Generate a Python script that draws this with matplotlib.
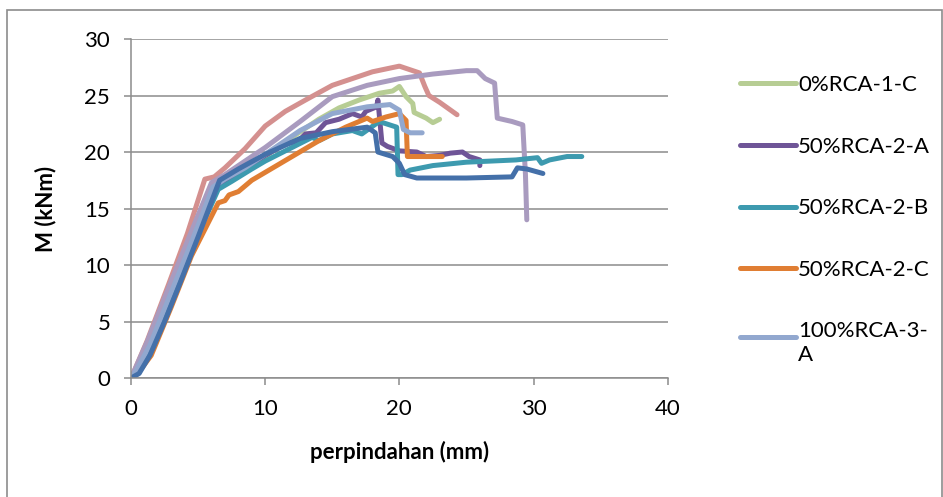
import matplotlib
matplotlib.use("Agg")
import matplotlib.pyplot as plt
from matplotlib.legend_handler import HandlerLine2D
from matplotlib.patches import Rectangle

plt.rcParams['font.family'] = ['Lato', 'DejaVu Sans']

# load-displacement readings, displacement in mm and moment in kNm
x_0_1c = [0, 0.5, 1.5, 3, 4.5, 6.2, 7, 8.5, 10, 12, 14, 15.5, 17, 18.5, 19.5, 20, 20.5, 21, 21.1, 22, 22.5, 23]
m_0_1c = [0, 0.6, 2.6, 7.2, 11.8, 16.6, 17.3, 18.4, 19.6, 21.3, 22.9, 23.9, 24.6, 25.2, 25.4, 25.8, 24.9, 24.3, 23.5, 23.0, 22.6, 22.9]

x_50_2a = [0, 0.5, 1.5, 3, 4.5, 6.4, 7.2, 8.5, 10, 11.5, 12.5, 13, 13.8, 14.5, 15.5, 16.5, 17.2, 17.5, 18.3, 18.4, 18.7, 19.1,
           20, 21.3, 22, 23, 23.8, 24.7, 25.2, 26, 26]
m_50_2a = [0, 0.5, 2.4, 7.0, 11.6, 16.7, 17.4, 18.5, 19.7, 20.7, 21.0, 21.6, 21.7, 22.6, 22.9, 23.4, 23.1, 23.6, 24.0, 24.6, 20.8, 20.5,
           20.1, 20.0, 19.6, 19.7, 19.9, 20.0, 19.6, 19.3, 18.8]

x_50_2b = [0, 0.5, 1.5, 3, 4.5, 6.5, 7.5, 9, 10, 12, 13.5, 14, 15, 16.5, 17.2, 18.5, 19.8, 19.9, 20.2, 20.8, 22.5, 25,
           28.7, 30.3, 30.6, 31.2, 32.5, 33.6]
m_50_2b = [0, 0.5, 2.3, 6.8, 11.4, 16.7, 17.4, 18.5, 19.2, 20.4, 21.3, 21.0, 21.6, 21.9, 21.6, 22.7, 22.2, 18.0, 18.0, 18.4, 18.8, 19.1,
           19.3, 19.5, 19.0, 19.3, 19.6, 19.6]

x_50_2c = [0, 0.5, 1.5, 3, 4.5, 6.5, 7.0, 7.3, 8, 9, 10, 12, 14, 16, 17.6, 18.0, 19, 20, 20.5, 20.6, 21.5, 23.2]
m_50_2c = [0, 0.4, 2.0, 6.3, 10.8, 15.5, 15.7, 16.2, 16.5, 17.5, 18.2, 19.6, 21.0, 22.2, 23.0, 22.7, 23.1, 23.4, 22.8, 19.6, 19.6, 19.6]

x_100_3a = [0, 0.4, 1.4, 3, 4.5, 6.1, 7, 8.5, 10, 12.6, 15, 17.6, 19.3, 20, 20.3, 20.8, 21.7]
m_100_3a = [0, 0.7, 2.9, 7.6, 12.0, 16.9, 17.6, 18.6, 19.8, 21.9, 23.4, 24.0, 24.2, 23.7, 22.0, 21.7, 21.7]

x_100_3b = [0, 0.3, 1.2, 2.8, 4.3, 6.0, 7, 8.5, 10, 12.6, 15, 17.6, 20, 22.5, 25, 25.8, 26.4, 27.1, 27.3, 28.4, 29.2,
            29.4, 29.5]
m_100_3b = [0, 0.8, 3.2, 8.0, 12.4, 17.3, 18.0, 19.2, 20.4, 22.7, 24.9, 25.9, 26.5, 26.9, 27.2, 27.2, 26.5, 26.1, 23.0, 22.7,
            22.4, 18.0, 14.0]

x_0_1a = [0, 0.3, 1.2, 2.8, 4.2, 5.5, 6.2, 7, 8.5, 10, 11.5, 13, 15, 18, 20, 21.5, 21.9, 22.2, 23, 24.3]
m_0_1a = [0, 0.8, 3.3, 8.3, 12.8, 17.6, 17.8, 18.6, 20.3, 22.3, 23.6, 24.6, 25.9, 27.1, 27.6, 27.0, 25.8, 25.0, 24.4, 23.3]

x_50_2d = [0, 0.6, 1.4, 2.5, 3.65, 5, 6.6, 8, 10, 12.6, 15, 17.6, 18.2, 18.4, 19.5, 20.0, 20.4, 21.3, 25, 28.4, 28.8,
           29.5, 30.7]
m_50_2d = [0, 0.4, 2.0, 5.0, 8.4, 12.5, 17.5, 18.5, 19.8, 21.2, 21.8, 22.2, 21.7, 20.0, 19.6, 19.0, 18.0, 17.7, 17.7, 17.8, 18.6,
           18.5, 18.1]

# unlabelled runs go first so the labelled ones sit on top
extra = [
    (x_0_1a, m_0_1a, '#D4908F'),
    (x_100_3b, m_100_3b, '#A99BBF'),
]
labelled = [
    (x_0_1c, m_0_1c, '#B7CD94', '0%RCA-1-C'),
    (x_50_2a, m_50_2a, '#6F5597', '50%RCA-2-A'),
    (x_50_2b, m_50_2b, '#3D9AAF', '50%RCA-2-B'),
    (x_50_2c, m_50_2c, '#E07E33', '50%RCA-2-C'),
    (x_100_3a, m_100_3a, '#92A8CF', '100%RCA-3-\nA'),
]

fig = plt.figure(figsize=(9.43, 4.97), dpi=100)
ax = fig.add_axes([0.139, 0.2394, 0.569, 0.6821])

lw = 3.6
for xs, ms, c in extra:
    ax.plot(xs, ms, color=c, lw=lw, solid_capstyle='round', solid_joinstyle='round')
handles = []
for xs, ms, c, lab in labelled:
    h, = ax.plot(xs, ms, color=c, lw=lw, label=lab, solid_capstyle='round', solid_joinstyle='round')
    handles.append(h)
ax.plot(x_50_2d, m_50_2d, color='#4470A9', lw=lw, solid_capstyle='round', solid_joinstyle='round')

ax.set_xlim(0, 40)
ax.set_ylim(0, 30)
ax.set_xticks([0, 10, 20, 30, 40])
ax.set_yticks([0, 5, 10, 15, 20, 25, 30])
ax.grid(axis='y', color='#8C8C8C', lw=1.1)
ax.set_axisbelow(True)
for s in ['top', 'right']:
    ax.spines[s].set_visible(False)
for s in ['left', 'bottom']:
    ax.spines[s].set_color('#8C8C8C')
    ax.spines[s].set_linewidth(1.1)
ax.tick_params(colors='#8C8C8C', labelcolor='black', labelsize=16, length=5, width=1.1)
ax.tick_params(axis='x', pad=10)
ax.tick_params(axis='y', pad=10)
ax.set_xlabel('perpindahan (mm)', fontsize=16, fontweight='bold', labelpad=16)
ax.set_ylabel('M (kNm)', fontsize=16, fontweight='bold', labelpad=20)


class FirstLineHandler(HandlerLine2D):
    # keeps the sample line level with the first row of a wrapped label
    def create_artists(self, legend, orig_handle, xdescent, ydescent, width, height, fontsize, trans):
        return super().create_artists(legend, orig_handle, xdescent, ydescent - 0.6 * fontsize,
                                      width, height, fontsize, trans)


leg = fig.legend(handles=handles, loc='upper left', bbox_to_anchor=(0.764, 0.889), frameon=False,
                 fontsize=16, handlelength=2.5, handletextpad=0.1, labelspacing=1.87,
                 handler_map={handles[-1]: FirstLineHandler()})

# outer chart frame
fig.patches.append(Rectangle((7 / 943, -0.05), 935 / 943, 1.05 - 10 / 497, transform=fig.transFigure,
                             fill=False, edgecolor='#8C8C8C', lw=1.2))

fig.savefig('out.png', dpi=100)
